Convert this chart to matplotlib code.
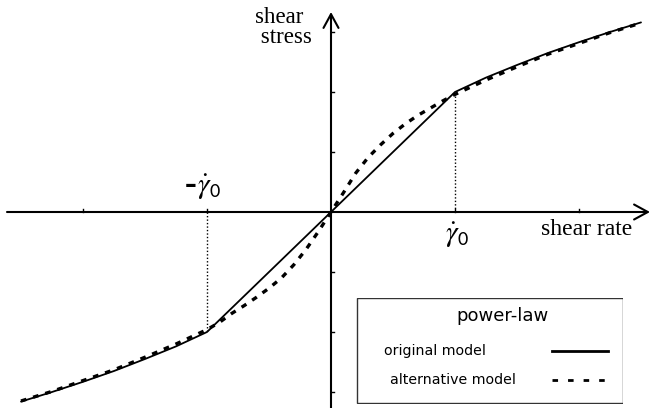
import matplotlib
matplotlib.use("Agg")
import matplotlib.pyplot as plt
from matplotlib.patches import Rectangle

plt.rcParams["mathtext.fontset"] = "stix"

# Flow curve data: shear rate in units of gamma_0, shear stress in tick units
gamma0 = 1.0
tau0 = 2.0

orig_rate = [-2.5, -2.25, -2.0, -1.75, -1.5, -1.25, -1.0,
             1.0, 1.25, 1.5, 1.75, 2.0, 2.25, 2.5]
orig_stress = [-3.16, -3.0, -2.83, -2.65, -2.45, -2.24, -2.0,
               2.0, 2.24, 2.45, 2.65, 2.83, 3.0, 3.16]

alt_rate = [-2.5, -2.25, -2.0, -1.75, -1.5, -1.25, -1.0, -0.9, -0.8, -0.7,
            -0.6, -0.5, -0.4, -0.3, -0.2, -0.1, 0.0,
            0.1, 0.2, 0.3, 0.4, 0.5, 0.6, 0.7, 0.8, 0.9, 1.0,
            1.25, 1.5, 1.75, 2.0, 2.25, 2.5]
alt_stress = [-3.15, -2.99, -2.81, -2.63, -2.42, -2.2, -1.96, -1.84, -1.69, -1.56,
              -1.42, -1.27, -1.1, -0.88, -0.62, -0.32, 0.0,
              0.32, 0.65, 0.91, 1.12, 1.31, 1.47, 1.61, 1.73, 1.85, 1.96,
              2.2, 2.42, 2.63, 2.81, 2.99, 3.15]

x_ticks = [-2, -1, 1, 2]
y_ticks = [-3, -2, -1, 1, 2, 3]

W, H = 651, 408
fig = plt.figure(figsize=(W / 100, H / 100), dpi=100)
ax = fig.add_axes([0, 0, 1, 1])
# 124 px per rate unit, 60 px per stress unit, origin at (331, 212) px
ax.set_xlim(-331 / 124, (W - 331) / 124)
ax.set_ylim(-(H - 212) / 60, 212 / 60)
ax.axis("off")

px_x = 1 / 124
px_y = 1 / 60

# coordinate axes with open arrow heads
arrow = dict(arrowstyle="->, head_length=0.55, head_width=0.3", lw=1.5,
             color="black", shrinkA=0, shrinkB=0, mutation_scale=18)
ax.annotate("", xy=(319 * px_x, 0), xytext=(-324 * px_x, 0), arrowprops=arrow)
ax.annotate("", xy=(0, 200 * px_y), xytext=(0, -200 * px_y), arrowprops=arrow)

# small tick marks
for t in x_ticks:
    ax.plot([t, t], [0, 3.5 * px_y], color="black", lw=1.0)
for t in y_ticks:
    ax.plot([0, 3.5 * px_x], [t, t], color="black", lw=1.0)

# dotted guides at +/- gamma_0
ax.plot([gamma0, gamma0], [0, tau0], color="black", lw=1.0, ls=(0, (1, 1.5)))
ax.plot([-gamma0, -gamma0], [0, -tau0], color="black", lw=1.0, ls=(0, (1, 1.5)))

# curves
solid_kw = dict(color="black", lw=1.3, solid_capstyle="round")
dash_kw = dict(color="black", lw=2.4, ls=(0, (1.7, 2.1)), dash_capstyle="butt")
ax.plot(orig_rate, orig_stress, **solid_kw)
ax.plot(alt_rate, alt_stress, **dash_kw)

# axis labels
serif = "Liberation Serif"
ax.text(-76 * px_x, 169 * px_y, "shear\n stress", family=serif, fontsize=16.5,
        ha="left", va="baseline", linespacing=0.93, multialignment="left")
ax.text(210 * px_x, -23 * px_y, "shear rate", family=serif, fontsize=17,
        ha="left", va="baseline")

# gamma_0 markers
gam = r"$\dot{\gamma}_{\mathsf{0}}$"
ax.text(gamma0 + 2 * px_x, -9 * px_y, gam, fontsize=21, ha="center", va="top")
ax.text(-gamma0 + 2 * px_x, 39 * px_y, gam, fontsize=21, ha="center", va="top")
ax.text(-gamma0 - 16 * px_x, 27 * px_y, "\u2013", family="DejaVu Sans",
        fontweight="bold", fontsize=17, ha="center", va="center")

# legend box
lx0, lx1, ly0, ly1 = 356, 623, 298, 404
lax = fig.add_axes([lx0 / W, 1 - ly1 / H, (lx1 - lx0) / W, (ly1 - ly0) / H])
lax.set_xlim(lx0, lx1)
lax.set_ylim(ly1, ly0)
lax.axis("off")
lax.add_patch(Rectangle((lx0 + 0.5, ly0 + 0.5), lx1 - lx0 - 1, ly1 - ly0 - 1,
                        fill=False, ec="#333333", lw=1.0))
sans = "DejaVu Sans"
lax.text(502, 316, "power-law", family=sans, fontsize=13, ha="center", va="center")
lax.text(384, 351, "original model", family=sans, fontsize=10.2, ha="left", va="center")
lax.text(390, 380, "alternative model", family=sans, fontsize=10.2, ha="left", va="center")
lax.plot([552, 608], [351, 351], color="black", lw=2.0)
lax.plot([552, 608], [380, 380], color="black", lw=2.0, ls=(0, (2.0, 3.6)))

fig.savefig("out.png", dpi=100)
